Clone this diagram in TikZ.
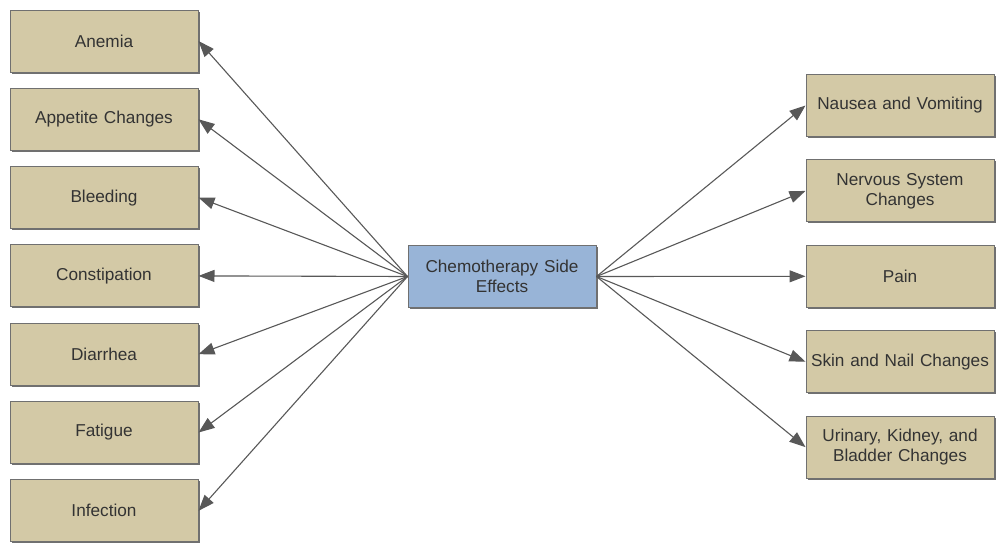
\documentclass[tikz,border=0pt]{standalone}
\usepackage{fontspec}
\setmainfont{Liberation Sans}
\usetikzlibrary{positioning}
\usetikzlibrary{arrows.meta}
\usetikzlibrary{shadows}
\definecolor{boxtan}{HTML}{D3C9A6}
\definecolor{boxblue}{HTML}{98B4D7}
\definecolor{boxline}{HTML}{707070}
\definecolor{ink}{HTML}{333333}
\definecolor{wire}{HTML}{585858}

\begin{document}
\begin{tikzpicture}[x=1pt,y=1pt,-{Triangle[length=16pt,width=12pt]},
			wire,line width=1.1pt]
			\tikzstyle{effect}=[draw=boxline,line width=1pt,fill=boxtan,minimum width=188pt,
				minimum height=62pt,text width=184pt,inner xsep=2pt,align=center,text=ink,
				font=\fontsize{17.2}{20}\selectfont,
				drop shadow={shadow xshift=1.5pt,shadow yshift=-1.5pt,fill=black!70,opacity=0.8}]
			\tikzstyle{cause}=[effect,fill=boxblue]
			
			\useasboundingbox (0,0) rectangle (999,-544);
			
			\node[cause]  (C)   at (502,-276.5)              {Chemotherapy Side\\Effects};
			
			\node[effect] (L_1) at (104,-41)                 {Anemia};
			\node[effect] (L_2) [below=15.3pt of L_1]        {Appetite Changes};
			\node[effect] (L_3) [below=15.3pt of L_2]        {Bleeding};
			\node[effect] (L_4) [below=15.3pt of L_3]        {Constipation};
			\node[effect] (L_5) [below=15.3pt of L_4]        {Diarrhea};
			\node[effect] (L_6) [below=15.3pt of L_5]        {Fatigue};
			\node[effect] (L_7) [below=15.3pt of L_6]        {Infection};
			
			\node[effect] (R_1) at (900,-105.5)              {Nausea and Vomiting};
			\node[effect] (R_2) [below=22.4pt of R_1]        {Nervous System\\Changes};
			\node[effect] (R_3) [below=22.4pt of R_2]        {Pain};
			\node[effect] (R_4) [below=22.4pt of R_3]        {Skin and Nail Changes};
			\node[effect] (R_5) [below=22.4pt of R_4]        {Urinary, Kidney, and\\Bladder Changes};
			
			\foreach \i in {1,...,7}
				\draw (C.west) -- (L_\i.east);
			\foreach \i in {1,...,5}
				\draw (C.east) -- (R_\i.west);
			
\end{tikzpicture}
\end{document}
